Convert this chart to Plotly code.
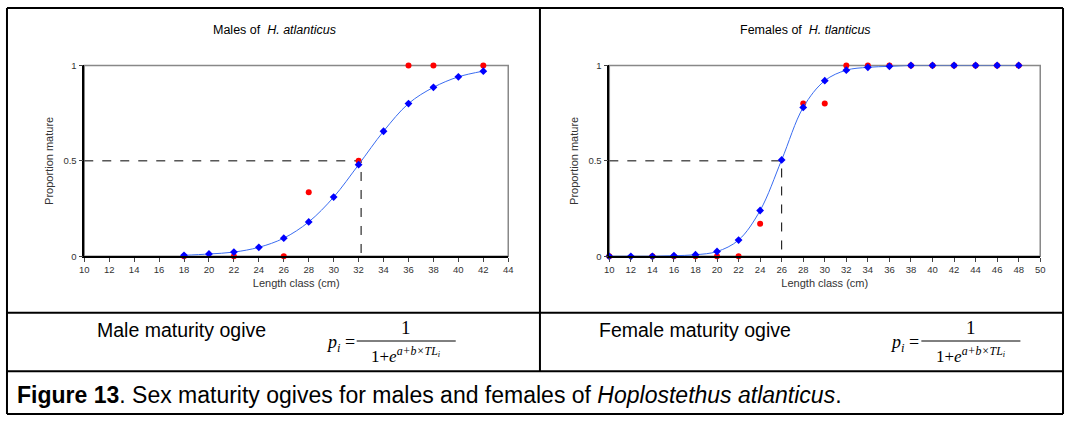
import plotly.graph_objects as go

male_fit_x = [18, 20, 22, 24, 26, 28, 30, 32, 34, 36, 38, 40, 42]
male_fit_y = [0.005, 0.012, 0.022, 0.047, 0.095, 0.18, 0.31, 0.48, 0.655, 0.80, 0.885, 0.94, 0.97]
male_obs_x = [18, 22, 26, 28, 32, 36, 38, 42]
male_obs_y = [0, 0, 0, 0.335, 0.5, 1, 1, 1]
male_l50 = 32.2

fem_fit_x = [10, 12, 14, 16, 18, 20, 22, 24, 26, 28, 30, 32, 34, 36, 38, 40, 42, 44, 46, 48]
fem_fit_y = [0, 0, 0, 0.003, 0.008, 0.025, 0.085, 0.24, 0.505, 0.78, 0.92, 0.975, 0.99, 0.995, 1, 1, 1, 1, 1, 1]
fem_obs_x = [10, 14, 16, 18, 20, 22, 24, 28, 30, 32, 34, 36, 38, 40, 42, 44, 46, 48]
fem_obs_y = [0, 0, 0, 0, 0, 0, 0.17, 0.8, 0.8, 1, 1, 1, 1, 1, 1, 1, 1, 1]
fem_l50 = 26

W, H = 1070, 421
FONT = "Liberation Sans, Arial, sans-serif"
SERIF = "Liberation Serif, serif"
fig = go.Figure()

def px(x): return x / W
def py(y): return 1 - y / H

panels = [
    dict(xa="x", ya="y", ox=male_obs_x, oy=male_obs_y, fx=male_fit_x, fy=male_fit_y, l50=male_l50,
         dom=[px(80), px(508)], rng=[10, 44]),
    dict(xa="x2", ya="y2", ox=fem_obs_x, oy=fem_obs_y, fx=fem_fit_x, fy=fem_fit_y, l50=fem_l50,
         dom=[px(610), px(1045)], rng=[10, 50]),
]
ydom = [py(257), py(61)]

for i, p in enumerate(panels):
    fig.add_trace(go.Scatter(x=[p["rng"][0], p["l50"], p["l50"]], y=[0.5, 0.5, 0], mode="lines",
                             line=dict(color="black", width=1, dash="dash"), xaxis=p["xa"], yaxis=p["ya"], showlegend=False))
    fig.add_trace(go.Scatter(x=p["ox"], y=p["oy"], mode="markers", marker=dict(color="#ff0000", size=6),
                             xaxis=p["xa"], yaxis=p["ya"], showlegend=False, cliponaxis=False))
    fig.add_trace(go.Scatter(x=p["fx"], y=p["fy"], mode="lines+markers", line=dict(color="#3a6cf0", width=1, shape="spline"),
                             marker=dict(color="#0000ff", size=6, symbol="diamond"),
                             xaxis=p["xa"], yaxis=p["ya"], showlegend=False, cliponaxis=False))
    sfx = "" if i == 0 else "2"
    fig.layout["xaxis" + sfx] = dict(domain=p["dom"], range=p["rng"], dtick=2, tick0=10, ticks="outside", ticklen=4,
                                     showgrid=False, zeroline=False, showline=True, linecolor="black", linewidth=1.5,
                                     tickfont=dict(size=9.5, color="#333"), anchor="y" + sfx,
                                     title=dict(text="Length class (cm)", font=dict(size=11, color="#333"), standoff=5))
    fig.layout["yaxis" + sfx] = dict(domain=ydom, range=[0, 1], tickvals=[0, 0.5, 1], ticktext=["0", "0.5", "1"],
                                     ticks="outside", ticklen=4, showgrid=False, zeroline=False, showline=True,
                                     linecolor="black", linewidth=1.5, tickfont=dict(size=9.5, color="#333"), anchor="x" + sfx,
                                     title=dict(text="Proportion mature", font=dict(size=11, color="#333"), standoff=8))
    fig.add_shape(type="rect", xref=p["xa"] + " domain", yref=p["ya"] + " domain", x0=0, x1=1, y0=0, y1=1,
                  line=dict(color="#888", width=1.5), layer="below")

def ann(text, x, y, size, family=FONT, xanchor="center"):
    fig.add_annotation(text=text, x=px(x), y=py(y), xref="paper", yref="paper", xanchor=xanchor, yanchor="middle",
                       showarrow=False, font=dict(size=size, family=family, color="black"))

ann("Males of  <i>H. atlanticus</i>", 272, 25, 12.5)
ann("Females of  <i>H. tlanticus</i>", 808, 25, 12.5)

# table borders
lines = [(2, 2, 1068, 2), (2, 419, 1068, 419), (2, 2, 2, 419), (1068, 2, 1068, 419),
         (2, 315, 1068, 315), (2, 375, 1068, 375), (540, 2, 540, 375)]
for x0, y0, x1, y1 in lines:
    fig.add_shape(type="line", xref="paper", yref="paper", x0=px(x0), y0=py(y0), x1=px(x1), y1=py(y1),
                  line=dict(color="black", width=2))

# formula row
for lab, lx, cx in [("Male maturity ogive", 178, 405), ("Female maturity ogive", 697, 975)]:
    ann(lab, lx, 333, 19.5)
    ann("<i>p<sub>i</sub></i> =", cx - 50, 347, 18, SERIF, xanchor="right")
    ann("1", cx, 330, 19, SERIF)
    ann("1+<i>e</i><sup><i>a+b×TL<sub>i</sub></i></sup>", cx, 358, 17, SERIF)
    fig.add_shape(type="line", xref="paper", yref="paper", x0=px(cx - 50), x1=px(cx + 50), y0=py(344), y1=py(344),
                  line=dict(color="black", width=1))

ann("<b>Figure 13</b>. Sex maturity ogives for males and females of <i>Hoplostethus atlanticus</i>.", 10, 399, 23,
    xanchor="left")

fig.update_layout(width=W, height=H, margin=dict(l=0, r=0, t=0, b=0), plot_bgcolor="white", paper_bgcolor="white",
                  font=dict(family=FONT))
fig.write_html("out.html", config={"displayModeBar": False})
with open("out.html", encoding="utf-8") as f:
    html = f.read()
html = html.replace("<head>", "<head><style>html,body{margin:0;padding:0;overflow:hidden}</style>", 1)
with open("out.html", "w", encoding="utf-8") as f:
    f.write(html)
